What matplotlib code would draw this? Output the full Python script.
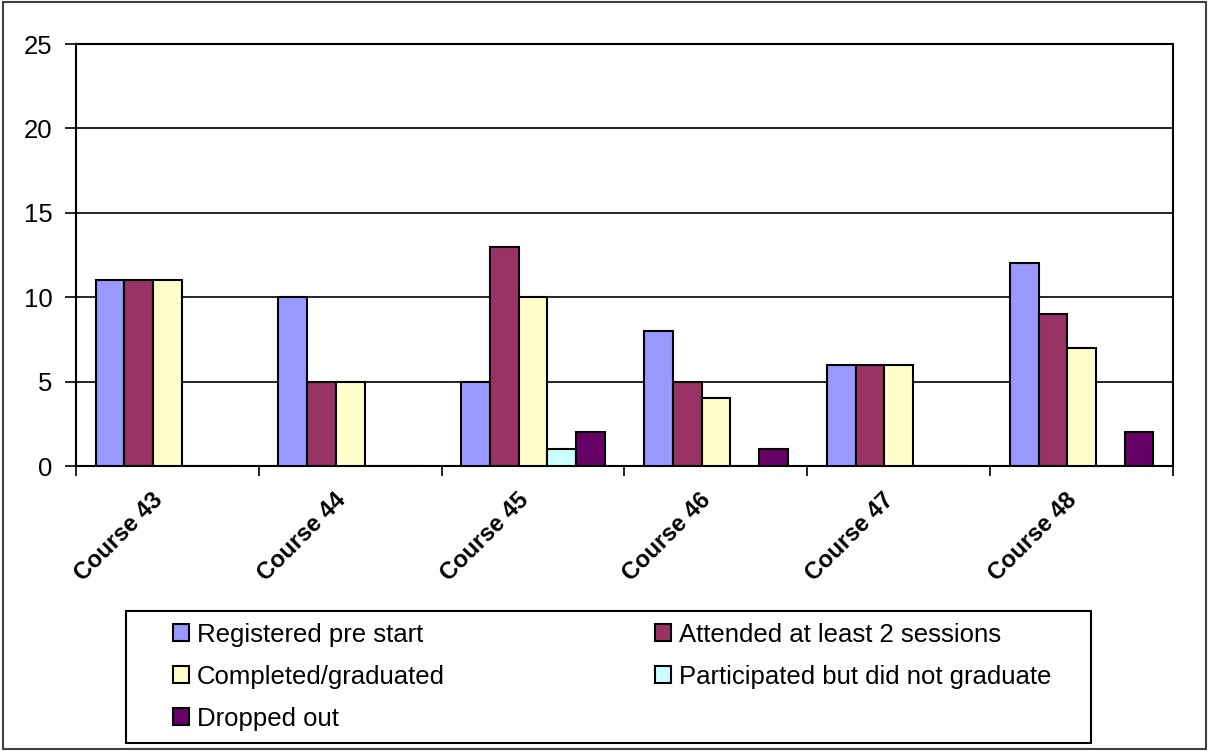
import matplotlib.pyplot as plt
import numpy as np
from matplotlib.patches import Rectangle
from matplotlib.transforms import ScaledTranslation

plt.rcParams['font.family'] = ['Liberation Sans', 'DejaVu Sans']

courses = ['Course 43', 'Course 44', 'Course 45', 'Course 46', 'Course 47', 'Course 48']
registered = [11, 10, 5, 8, 6, 12]
attended = [11, 5, 13, 5, 6, 9]
completed = [11, 5, 10, 4, 6, 7]
participated = [0, 0, 1, 0, 0, 0]
dropped = [0, 0, 2, 1, 0, 2]

series = [
    ('Registered pre start', registered, '#9999FF'),
    ('Attended at least 2 sessions', attended, '#993366'),
    ('Completed/graduated', completed, '#FFFFCC'),
    ('Participated but did not graduate', participated, '#CCFFFF'),
    ('Dropped out', dropped, '#660066'),
]

W, H = 1208, 751
fig = plt.figure(figsize=(W / 100, H / 100), dpi=100)
ax = fig.add_axes([76 / W, 1 - 466 / H, (1173 - 76) / W, (466 - 44) / H])

x = np.arange(len(courses))
w = 0.157
handles = {}
for i, (name, vals, col) in enumerate(series):
    bars = ax.bar(x + (i - 2) * w, vals, w, color=col, edgecolor='black', linewidth=1.5, zorder=3, label=name)
    handles[name] = bars

ax.set_xlim(-0.5, len(courses) - 0.5)
ax.set_ylim(0, 25)
ax.set_yticks([0, 5, 10, 15, 20, 25])
ax.yaxis.grid(True, color='black', linewidth=1.2, zorder=0)
ax.tick_params(axis='y', direction='out', length=8, width=1.2, pad=9, labelsize=18.5)

ax.set_xticks(x)
ax.set_xticklabels(courses, rotation=45, ha='right', va='center', rotation_mode='anchor',
                   fontweight='bold', fontsize=17)
ax.set_xticks(np.arange(-0.5, len(courses)), minor=True)
ax.tick_params(axis='x', which='major', length=0, pad=22)
ax.tick_params(axis='x', which='minor', direction='out', length=7, width=1.2)
for lab in ax.get_xticklabels():
    lab.set_transform(lab.get_transform() + ScaledTranslation(-6 / 72, 0, fig.dpi_scale_trans))

for s in ax.spines.values():
    s.set_linewidth(1.5)
    s.set_color('black')

order = ['Registered pre start', 'Completed/graduated', 'Dropped out',
         'Attended at least 2 sessions', 'Participated but did not graduate']
fig.legend([handles[n] for n in order], order, ncol=2, loc='upper left',
           bbox_to_anchor=(160 / W, 1 - 610 / H), frameon=False, fontsize=18.5,
           borderpad=0, handlelength=0.63, handleheight=0.63, handletextpad=0.3,
           labelspacing=0.7, columnspacing=8.18)

# legend box and outer chart border
fig.patches.append(Rectangle((126 / W, 1 - 743 / H), (1091 - 126) / W, (743 - 611) / H,
                             transform=fig.transFigure, fill=False, ec='black', lw=1.5))
fig.patches.append(Rectangle((3 / W, 1 - 749 / H), (1206 - 3) / W, (749 - 2) / H,
                             transform=fig.transFigure, fill=False, ec='#404040', lw=1.5))

fig.savefig('out.png', dpi=100)
